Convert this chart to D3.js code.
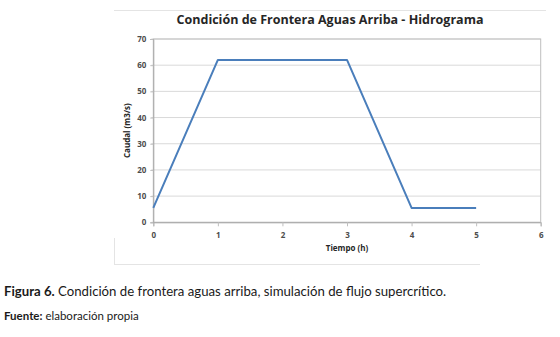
<!DOCTYPE html>
<html>
<head>
<meta charset="utf-8">
<script src="https://cdn.jsdelivr.net/npm/d3@7"></script>
<style>
  body { margin: 0; background: #fff; }
  svg { display: block; }
</style>
</head>
<body>
<svg id="chart" width="560" height="337"></svg>
<script>
// Hydrograph data (time in hours, discharge in m3/s)
const tiempo = [0, 1, 3, 4, 5];
const caudal = [5.5, 62, 62, 5.5, 5.5];
const xTicks = [0, 1, 2, 3, 4, 5, 6];
const yTicks = [0, 10, 20, 30, 40, 50, 60, 70];

const svg = d3.select('#chart');
const margin = { left: 153.3, right: 560 - 540.7, top: 39, bottom: 337 - 222.3 };
const width = 560 - margin.left - margin.right;
const height = 337 - margin.top - margin.bottom;

// Faint frame of the chart area
const frame = svg.append('g').attr('stroke', '#e4e4e4').attr('fill', 'none');
frame.append('line').attr('x1', 114).attr('x2', 546).attr('y1', 10.5).attr('y2', 10.5);
frame.append('line').attr('x1', 114.5).attr('x2', 114.5).attr('y1', 238).attr('y2', 264.5);
frame.append('line').attr('x1', 114).attr('x2', 480).attr('y1', 264.5).attr('y2', 264.5);

const g = svg.append('g')
  .attr('transform', `translate(${margin.left},${margin.top})`);

const x = d3.scaleLinear().domain([0, 6]).range([0, width]);
const y = d3.scaleLinear().domain([0, 70]).range([height, 0]);

// Gridlines
g.append('g')
  .selectAll('line')
  .data(yTicks)
  .join('line')
  .attr('x1', -2)
  .attr('x2', width)
  .attr('y1', d => y(d))
  .attr('y2', d => y(d))
  .attr('stroke', '#d9d9d9')
  .attr('stroke-width', 1);

// Plot border
g.append('rect')
  .attr('width', width)
  .attr('height', height)
  .attr('fill', 'none')
  .attr('stroke', '#bfbfbf');

// Axes
const xAxis = g.append('g')
  .attr('transform', `translate(0,${height})`)
  .call(d3.axisBottom(x).tickValues(xTicks).tickSize(4).tickPadding(6).tickFormat(d3.format('d')));
const yAxis = g.append('g')
  .call(d3.axisLeft(y).tickValues(yTicks).tickSize(3).tickPadding(4).tickFormat(d3.format('d')));

[xAxis, yAxis].forEach(a => {
  a.select('.domain').attr('stroke', '#a6a6a6');
  a.selectAll('.tick line').attr('stroke', '#bfbfbf');
  a.selectAll('.tick text')
    .attr('fill', '#4d4d4d')
    .style('font-family', 'Open Sans, sans-serif')
    .style('font-size', '8px')
    .style('font-weight', 'bold');
});

// Hydrograph line
const line = d3.line()
  .x((d, i) => x(tiempo[i]))
  .y(d => y(d));

g.append('path')
  .datum(caudal)
  .attr('fill', 'none')
  .attr('stroke', '#4a7ebb')
  .attr('stroke-width', 2)
  .attr('stroke-linejoin', 'round')
  .attr('d', line);

// Title and axis labels
svg.append('text')
  .attr('x', 330)
  .attr('y', 24)
  .attr('text-anchor', 'middle')
  .style('font-family', 'Open Sans, sans-serif')
  .style('font-size', '12.5px')
  .style('font-weight', 'bold')
  .attr('fill', '#262626')
  .text('Condición de Frontera Aguas Arriba - Hidrograma');

svg.append('text')
  .attr('x', margin.left + width / 2)
  .attr('y', 251)
  .attr('text-anchor', 'middle')
  .style('font-family', 'Open Sans, sans-serif')
  .style('font-size', '8px')
  .style('font-weight', 'bold')
  .attr('fill', '#262626')
  .text('Tiempo (h)');

svg.append('text')
  .attr('transform', `translate(130,${margin.top + height / 2}) rotate(-90)`)
  .attr('text-anchor', 'middle')
  .style('font-family', 'Open Sans, sans-serif')
  .style('font-size', '8px')
  .style('font-weight', 'bold')
  .attr('fill', '#262626')
  .text('Caudal (m3/s)');

// Caption
const cap = svg.append('text')
  .attr('x', 4)
  .attr('y', 296)
  .style('font-family', 'Lato, sans-serif')
  .style('font-size', '13.2px')
  .attr('fill', '#1a1a1a');
cap.append('tspan').style('font-weight', 'bold').text('Figura 6.');
cap.append('tspan').text(' Condición de frontera aguas arriba, simulación de flujo supercrítico.');

const src = svg.append('text')
  .attr('x', 4)
  .attr('y', 320)
  .style('font-family', 'Lato, sans-serif')
  .style('font-size', '11.5px')
  .attr('fill', '#1a1a1a');
src.append('tspan').style('font-weight', 'bold').text('Fuente:');
src.append('tspan').text(' elaboración propia');
</script>
</body>
</html>
